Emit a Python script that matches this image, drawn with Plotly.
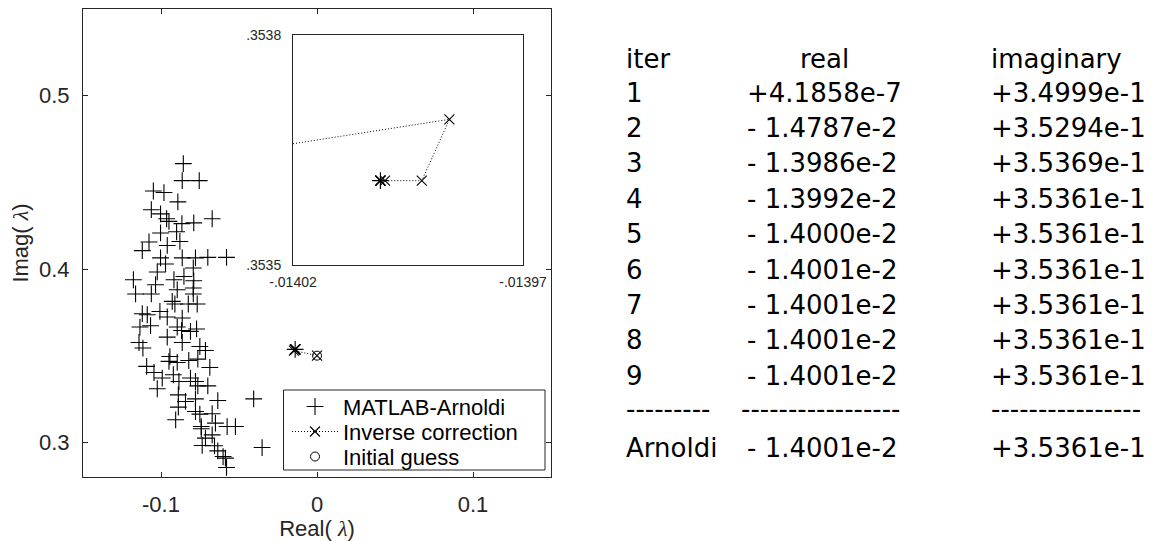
import plotly.graph_objects as go

W, H = 1154, 541

# Spectrum from MATLAB's Arnoldi solver (eigs): real and imaginary parts
arnoldi_re = [
    -0.0857, -0.0864, -0.0755, -0.1049, -0.0981, -0.0892, -0.1062, -0.1003,
    -0.0964, -0.0949, -0.0866, -0.0790, -0.0672, -0.1003, -0.0900, -0.1077,
    -0.1120, -0.0960, -0.0879, -0.1003, -0.0971, -0.0864, -0.0779, -0.0700,
    -0.0580, -0.0793, -0.1024, -0.0853, -0.0917, -0.0790, -0.1177, -0.1035,
    -0.1163, -0.1062, -0.0896, -0.0793, -0.0793, -0.0928, -0.0911, -0.0825,
    -0.0768, -0.1120, -0.1088, -0.1007, -0.0960, -0.0864, -0.1135, -0.1067,
    -0.0896, -0.0868, -0.0811, -0.0772, -0.0960, -0.0864, -0.1141, -0.1116,
    -0.0751, -0.0715, -0.0943, -0.0949, -0.0896, -0.0822, -0.0764, -0.1092,
    -0.0687, -0.1045, -0.0992, -0.0921, -0.0885, -0.0811, -0.0779, -0.0764,
    -0.0700, -0.1024, -0.0889, -0.0843, -0.0779, -0.0636, -0.0406, -0.0889,
    -0.0779, -0.0751, -0.0672, -0.0906, -0.0651, -0.0742, -0.0742, -0.0576,
    -0.0523, -0.0672, -0.0715, -0.0736, -0.0657, -0.0352, -0.0636, -0.0602,
    -0.0587, -0.0580,
]
arnoldi_im = [
    0.4608, 0.4510, 0.4510, 0.4450, 0.4441, 0.4387, 0.4342, 0.4318,
    0.4290, 0.4275, 0.4262, 0.4266, 0.4290, 0.4208, 0.4215, 0.4156,
    0.4106, 0.4136, 0.4159, 0.4064, 0.4029, 0.4064, 0.4064, 0.4067,
    0.4067, 0.4006, 0.3983, 0.3957, 0.3938, 0.3932, 0.3938, 0.3909,
    0.3856, 0.3856, 0.3880, 0.3890, 0.3856, 0.3813, 0.3798, 0.3798,
    0.3798, 0.3742, 0.3736, 0.3755, 0.3723, 0.3717, 0.3665, 0.3673,
    0.3665, 0.3645, 0.3640, 0.3654, 0.3607, 0.3576, 0.3576, 0.3544,
    0.3553, 0.3530, 0.3495, 0.3467, 0.3461, 0.3472, 0.3480, 0.3438,
    0.3432, 0.3403, 0.3371, 0.3390, 0.3351, 0.3371, 0.3351, 0.3326,
    0.3326, 0.3309, 0.3274, 0.3236, 0.3251, 0.3241, 0.3251, 0.3203,
    0.3178, 0.3163, 0.3165, 0.3130, 0.3111, 0.3091, 0.3078, 0.3091,
    0.3091, 0.3043, 0.3024, 0.2982, 0.2980, 0.2970, 0.2951, 0.2918,
    0.2909, 0.2855,
]

# Inverse-correction iterates as printed in the table
iter_labels = ["1", "2", "3", "4", "5", "6", "7", "8", "9"]
iter_real_txt = ["+4.1858e-7", "- 1.4787e-2", "- 1.3986e-2", "- 1.3992e-2",
                 "- 1.4000e-2", "- 1.4001e-2", "- 1.4001e-2", "- 1.4001e-2",
                 "- 1.4001e-2"]
iter_imag_txt = ["+3.4999e-1", "+3.5294e-1", "+3.5369e-1", "+3.5361e-1",
                 "+3.5361e-1", "+3.5361e-1", "+3.5361e-1", "+3.5361e-1",
                 "+3.5361e-1"]
arnoldi_label = "Arnoldi"
arnoldi_real_txt = "- 1.4001e-2"
arnoldi_imag_txt = "+3.5361e-1"
header = ["iter", "real", "imaginary"]
separators = ["-" * 9, "-" * 17, "-" * 16]

# Starting point of the inverse correction
guess_re = [0.0]
guess_im = [0.35]

# Axis settings
main_xrange = [-0.15, 0.15]
main_yrange = [0.28, 0.55]
main_xticks = [-0.1, 0.0, 0.1]
main_xticktext = ["-0.1", "0", "0.1"]
main_yticks = [0.3, 0.4, 0.5]
main_yticktext = ["0.3", "0.4", "0.5"]
inset_xrange = [-0.01402, -0.01397]
inset_yrange = [0.3535, 0.3538]
inset_xticktext = ["-.01402", "-.01397"]
inset_yticktext = [".3535", ".3538"]


def num(s):
    return float(s.replace(" ", ""))


iter_re = [num(s) for s in iter_real_txt]
iter_im = [num(s) for s in iter_imag_txt]

# the converged Arnoldi eigenvalue belongs to the spectrum as well
eig_re = arnoldi_re + [num(arnoldi_real_txt)]
eig_im = arnoldi_im + [num(arnoldi_imag_txt)]


def fx(p):
    return p / W


def fy(p):
    return 1 - p / H


AX = "#262626"
FONT = "Liberation Sans, Arial, sans-serif"
TFONT = "DejaVu Sans"
LAM = "<span style=\"font-family:'Liberation Serif'\"><i>λ</i></span>"

fig = go.Figure()

plus = dict(symbol="cross-thin-open", size=12, color="black",
            line=dict(width=1.1, color="black"))
cross = dict(symbol="x-thin-open", size=10, color="black",
             line=dict(width=1.1, color="black"))
ring = dict(symbol="circle-open", size=9, color="black",
            line=dict(width=1, color="black"))
dotted = dict(color="black", width=1, dash="1px,2px")

for ax, show in (("", True), ("2", False)):
    fig.add_trace(go.Scatter(
        x=eig_re, y=eig_im, mode="markers", marker=plus,
        name="MATLAB-Arnoldi", showlegend=show, legend="legend",
        xaxis="x" + ax, yaxis="y" + ax))
    fig.add_trace(go.Scatter(
        x=iter_re, y=iter_im, mode="lines+markers", marker=cross, line=dotted,
        name="Inverse correction", showlegend=show, legend="legend2",
        xaxis="x" + ax, yaxis="y" + ax))
    fig.add_trace(go.Scatter(
        x=guess_re, y=guess_im, mode="markers", marker=ring,
        name="Initial guess", showlegend=show, legend="legend3",
        xaxis="x" + ax, yaxis="y" + ax))

axis_common = dict(showgrid=False, zeroline=False, showline=True,
                   linecolor=AX, linewidth=1, automargin=False)

annotations = []


def text(s, x, y, anchor="left"):
    annotations.append(dict(
        text=s, x=fx(x), y=fy(y), xref="paper", yref="paper",
        xanchor=anchor, yanchor="middle", showarrow=False,
        font=dict(family=TFONT, size=26, color="black")))


col_x = [624, 745, 989]
text(header[0], col_x[0], 59)
text(header[1], 798, 59)
text(header[2], col_x[2], 59)
for k, (lab, re_s, im_s) in enumerate(zip(iter_labels, iter_real_txt, iter_imag_txt)):
    yc = 92.5 + 35.4 * k
    text(lab, col_x[0], yc)
    text(re_s, col_x[1], yc)
    text(im_s, col_x[2], yc)
text(separators[0], 624, 409)
text(separators[1], 739, 409)
text(separators[2], 989, 409)
text(arnoldi_label, col_x[0], 447.5)
text(arnoldi_real_txt, col_x[1], 447.5)
text(arnoldi_imag_txt, col_x[2], 447.5)


def legend_box(yrow):
    return dict(x=fx(287), y=fy(yrow), xanchor="left", yanchor="middle",
                bgcolor="rgba(0,0,0,0)", borderwidth=0, itemwidth=46,
                font=dict(size=22, color="black", family=FONT),
                itemsizing="trace")


fig.update_layout(
    width=W, height=H,
    margin=dict(l=0, r=0, t=0, b=0),
    paper_bgcolor="white", plot_bgcolor="white",
    font=dict(family=FONT, color=AX),
    xaxis=dict(
        domain=[fx(83), fx(551)], range=main_xrange, anchor="y",
        tickvals=main_xticks, ticktext=main_xticktext,
        ticks="inside", ticklen=5, tickcolor=AX, mirror="ticks",
        tickfont=dict(size=22, color=AX, family=FONT), ticklabelstandoff=8,
        title=dict(text="Real( " + LAM + ")", font=dict(size=22, color=AX, family=FONT),
                   standoff=3),
        **axis_common),
    yaxis=dict(
        domain=[fy(477), fy(9)], range=main_yrange, anchor="x",
        tickvals=main_yticks, ticktext=main_yticktext,
        ticks="inside", ticklen=5, tickcolor=AX, mirror="ticks",
        tickfont=dict(size=22, color=AX, family=FONT), ticklabelstandoff=8,
        title=dict(text="Imag( " + LAM + ")", font=dict(size=22, color=AX, family=FONT),
                   standoff=4),
        **axis_common),
    xaxis2=dict(
        domain=[fx(293), fx(523)], range=inset_xrange, anchor="y2",
        tickvals=inset_xrange, ticktext=inset_xticktext, ticks="",
        mirror=True, tickfont=dict(size=14, color=AX, family=FONT),
        ticklabelstandoff=4,
        **axis_common),
    yaxis2=dict(
        domain=[fy(265), fy(35)], range=inset_yrange, anchor="x2",
        tickvals=inset_yrange, ticktext=inset_yticktext, ticks="",
        mirror=True, tickfont=dict(size=14, color=AX, family=FONT),
        ticklabelstandoff=8,
        **axis_common),
    legend=legend_box(406.7),
    legend2=legend_box(431.7),
    legend3=legend_box(456.7),
    shapes=[dict(type="rect", xref="paper", yref="paper",
                 x0=fx(283.5), x1=fx(545), y0=fy(470), y1=fy(390),
                 line=dict(color=AX, width=1), fillcolor="white", layer="above")],
    annotations=annotations,
    showlegend=True,
)

fig.write_html("out.html")
